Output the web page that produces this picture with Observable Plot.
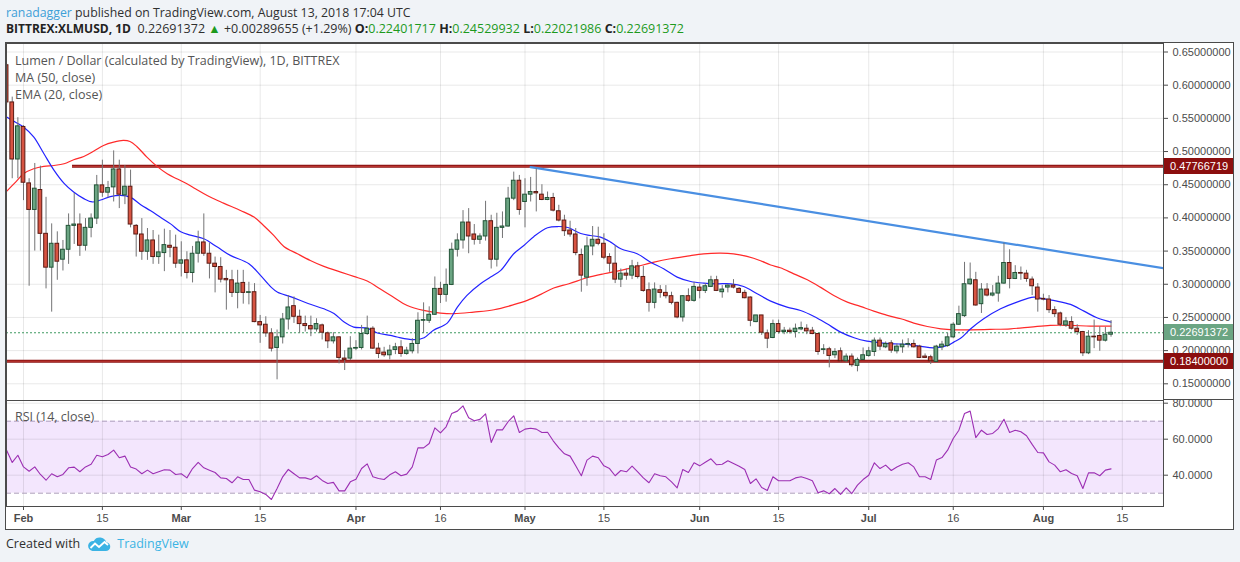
<!DOCTYPE html>
<html><head><meta charset="utf-8">
<script src="https://cdn.jsdelivr.net/npm/d3@7"></script>
<script src="https://cdn.jsdelivr.net/npm/@observablehq/plot@0.6"></script>
<style>
html,body{margin:0;padding:0;background:#f0f3f7;width:1240px;height:562px;overflow:hidden;font-family:"Open Sans",sans-serif;}
.abs{position:absolute;white-space:nowrap;}
#h1{left:6px;top:3px;font-size:12.3px;color:#2f2f2f;line-height:19px;}
#h1 .user{color:#3ea0d8;}
#h2{left:6px;top:20px;font-size:12.5px;color:#2f2f2f;line-height:18px;}
#h2 b{font-weight:700;color:#222;}
#h2 .sym{font-size:12px;}
#h2 .g{color:#1d9a1d;}
#frame{left:5px;top:42px;width:1229px;height:488px;box-sizing:border-box;border:1px solid #4b4b4b;background:#fff;}
#mainBox{left:6px;top:43px;width:1228px;height:357px;}
#rsiBox{left:6px;top:400px;width:1228px;height:130px;}
.leg{left:15px;font-size:12.5px;color:#555;line-height:16px;}
.pbox{position:absolute;left:1164px;width:69px;height:16px;color:#fff;font-family:"Liberation Sans",Arial,sans-serif;font-size:11px;line-height:16px;padding-left:6px;box-sizing:border-box;}
#sep{left:1163px;top:399px;width:70px;height:1px;background:#4b4b4b;}
#ft{left:6px;top:535px;font-size:12.5px;color:#2f2f2f;line-height:18px;display:flex;align-items:center;}
#ft .tv{color:#3bb3e4;}
</style></head><body>
<div id="h1" class="abs"><span class="user">ranadagger</span> published on TradingView.com, August 13, 2018 17:04 UTC</div>
<div id="h2" class="abs"><b class="sym">BITTREX:XLMUSD, 1D</b>&nbsp; 0.22691372 <span class="g">&#9650;</span> +0.00289655 (+1.29%) <b>O:</b><span class="g">0.22401717</span> <b>H:</b><span class="g">0.24529932</span> <b>L:</b><span class="g">0.22021986</span> <b>C:</b><span class="g">0.22691372</span></div>
<div id="frame" class="abs"></div>
<div id="mainBox" class="abs"></div>
<div id="rsiBox" class="abs"></div>
<div id="sep" class="abs"></div>
<div class="abs leg" style="top:53px">Lumen / Dollar (calculated by TradingView), 1D, BITTREX</div>
<div class="abs leg" style="top:70px">MA (50, close)</div>
<div class="abs leg" style="top:87px">EMA (20, close)</div>
<div class="abs leg" style="top:409px">RSI (14, close)</div>
<div id="ft" class="abs">Created with&nbsp;&nbsp;<svg width="24" height="16" viewBox="0 0 24 16"><path d="M5.5 15 H18.5 A4.4 4.4 0 0 0 19.2 6.2 A6.8 6.8 0 0 0 6.8 5 A5 5 0 0 0 5.5 15 Z" fill="#3bb3e4"/><polyline points="3.5,12 8,7.5 12,11 17.5,6 21,9" fill="none" stroke="#fff" stroke-width="1.8"/></svg>&nbsp;&nbsp;<span class="tv">TradingView</span></div>
<script>
// ---------- data ----------
const firstCandle = "2018-01-29";
// [open, high, low, close] per day
const ohlcJan = [[.630,.632,.570,.574],[.574,.582,.459,.488],[.488,.551,.459,.538]];
const ohlcFeb = [
[.537,.539,.426,.453],[.452,.459,.297,.412],[.412,.482,.350,.444],[.442,.478,.350,.376],[.376,.431,.293,.325],
[.325,.391,.258,.361],[.361,.379,.306,.334],[.337,.366,.320,.352],[.352,.406,.330,.388],[.388,.437,.360,.390],
[.390,.406,.342,.358],[.358,.399,.350,.385],[.385,.406,.370,.399],[.399,.464,.390,.449],[.449,.487,.431,.438],
[.438,.455,.430,.445],[.446,.501,.424,.473],[.473,.487,.414,.435],[.434,.479,.420,.447],[.447,.472,.385,.390],
[.388,.390,.341,.375],[.375,.399,.336,.349],[.349,.384,.336,.366],[.366,.381,.330,.341],[.341,.374,.330,.348],
[.347,.383,.319,.359],[.358,.381,.340,.355],[.355,.374,.324,.331]];
const ohlcMar = [
[.331,.364,.311,.336],[.336,.349,.308,.317],[.317,.357,.302,.346],[.346,.380,.332,.363],[.363,.406,.342,.346],
[.346,.362,.308,.331],[.331,.341,.287,.326],[.326,.340,.302,.307],[.308,.321,.261,.306],[.306,.321,.280,.287],
[.287,.321,.263,.301],[.302,.321,.270,.287],[.287,.303,.269,.288],[.288,.301,.242,.243],[.243,.253,.211,.238],
[.239,.251,.220,.226],[.226,.233,.198,.203],[.204,.231,.156,.220],[.220,.256,.210,.247],[.247,.283,.231,.265],
[.267,.281,.241,.251],[.251,.261,.226,.240],[.240,.252,.228,.237],[.237,.252,.221,.232],[.232,.248,.228,.240],
[.238,.240,.216,.227],[.226,.228,.203,.214],[.214,.227,.210,.220],[.220,.221,.180,.189],[.188,.200,.170,.186],
[.188,.221,.185,.203]];
const ohlcApr = [
[.203,.215,.200,.204],[.204,.238,.201,.225],[.225,.252,.223,.233],[.233,.236,.202,.203],[.203,.211,.188,.195],
[.197,.205,.190,.193],[.193,.208,.186,.200],[.201,.211,.194,.205],[.205,.215,.190,.195],[.195,.205,.193,.200],
[.199,.218,.195,.210],[.210,.257,.195,.245],[.245,.272,.226,.246],[.245,.266,.241,.254],[.254,.311,.253,.293],
[.293,.303,.271,.284],[.284,.323,.273,.299],[.299,.362,.298,.352],[.352,.376,.341,.366],[.366,.411,.353,.393],
[.393,.414,.346,.372],[.375,.390,.359,.367],[.367,.376,.360,.372],[.372,.425,.365,.395],[.395,.404,.323,.337],
[.337,.407,.326,.385],[.385,.409,.369,.387],[.387,.446,.386,.429],[.429,.469,.426,.456],[.456,.464,.404,.412]];
const ohlcMay = [
[.424,.459,.385,.435],[.435,.461,.424,.439],[.439,.474,.409,.437],[.435,.450,.426,.427],[.427,.439,.426,.430],
[.430,.437,.409,.411],[.410,.419,.394,.396],[.396,.404,.372,.380],[.381,.395,.371,.375],[.375,.384,.343,.347],
[.344,.353,.288,.313],[.310,.371,.297,.357],[.357,.387,.343,.367],[.367,.386,.358,.361],[.361,.376,.337,.340],
[.341,.346,.318,.331],[.331,.358,.301,.307],[.307,.323,.295,.316],[.316,.323,.306,.313],[.313,.336,.307,.327],
[.327,.333,.308,.311],[.311,.327,.288,.290],[.291,.302,.258,.272],[.272,.302,.263,.292],[.291,.298,.279,.287],
[.287,.298,.278,.282],[.282,.288,.269,.272],[.272,.273,.248,.250],[.250,.283,.243,.282],[.282,.293,.273,.275],
[.275,.303,.273,.296]];
const ohlcJun = [
[.295,.300,.278,.290],[.290,.301,.286,.297],[.296,.312,.295,.306],[.306,.312,.289,.290],[.288,.298,.279,.292],
[.295,.299,.287,.298],[.298,.307,.293,.295],[.293,.295,.286,.287],[.287,.291,.278,.279],[.280,.281,.236,.245],
[.243,.253,.242,.253],[.253,.253,.223,.227],[.226,.231,.203,.218],[.219,.246,.218,.240],[.240,.246,.225,.228],
[.228,.235,.224,.230],[.230,.234,.225,.228],[.228,.240,.219,.233],[.232,.243,.230,.234],[.233,.239,.224,.229],
[.230,.235,.224,.225],[.225,.226,.193,.198],[.201,.209,.194,.202],[.202,.205,.174,.192],[.193,.203,.188,.198],
[.199,.204,.183,.184],[.184,.195,.182,.191],[.191,.195,.175,.178],[.177,.189,.168,.186],[.186,.204,.185,.193]];
const ohlcJul = [
[.192,.205,.190,.199],[.198,.219,.191,.215],[.215,.219,.200,.206],[.205,.213,.203,.210],[.211,.215,.196,.200],
[.199,.210,.195,.206],[.205,.216,.196,.209],[.209,.218,.204,.210],[.210,.216,.204,.205],[.206,.208,.188,.189],
[.191,.195,.188,.189],[.190,.193,.179,.184],[.183,.208,.182,.206],[.205,.214,.200,.209],[.207,.226,.205,.220],
[.220,.242,.218,.239],[.239,.267,.238,.255],[.252,.333,.250,.300],[.300,.332,.298,.307],[.306,.318,.267,.268],
[.270,.301,.256,.292],[.292,.301,.281,.283],[.283,.298,.281,.286],[.286,.312,.273,.301],[.301,.362,.300,.332],
[.332,.352,.293,.308],[.308,.328,.307,.317],[.317,.326,.306,.316],[.316,.321,.303,.308],[.307,.311,.283,.297],
[.295,.301,.258,.277]];
const ohlcAug = [
[.278,.285,.275,.277],[.277,.283,.256,.261],[.261,.266,.250,.255],[.256,.258,.236,.239],[.238,.250,.235,.244],
[.243,.251,.231,.233],[.233,.239,.223,.228],[.228,.229,.191,.196],[.196,.230,.194,.221],[.221,.246,.203,.220],
[.222,.236,.199,.215],[.215,.235,.213,.22402],[.22401717,.24529932,.22021986,.22691372]];

const rsiJan = [53.9,47.1,51.1];
const rsiFeb = [44.6,42.2,44.6,40.4,37.2,40.8,39.1,40.4,44.1,44.5,41.9,44.6,46.1,51.1,50.2,51.5,53.9,49.7,50.6,44.6,43.4,40.8,42.8,40.8,41.9,43.0,42.8,40.4];
const rsiMar = [40.8,38.5,43.7,47.1,44.1,42.8,41.5,38.5,38.2,35.8,39.1,37.6,37.6,31.7,30.8,29.3,26.5,32.6,39.1,43.2,40.8,38.5,38.5,37.6,39.7,37.1,35.4,36.0,31.3,31.3,36.3];
const rsiApr = [37.8,43.7,46.3,39.1,38.2,37.6,40.2,41.9,39.7,40.6,44.6,55.2,55.2,57.6,66.3,63.5,66.9,74.3,75.6,78.5,71.9,70.2,71.0,74.1,58.2,65.2,65.2,69.7,73.0,63.7];
const rsiMay = [65.6,66.1,65.6,63.7,63.9,59.1,55.2,51.9,50.6,45.2,39.7,48.4,50.6,49.7,45.2,43.7,39.7,42.6,41.9,45.0,41.9,38.5,35.8,40.8,39.7,39.1,36.3,33.0,43.2,41.5,46.9];
const rsiJun = [45.2,47.2,49.1,45.8,46.1,48.0,46.5,45.0,43.2,35.4,38.0,33.2,31.5,39.1,36.9,36.9,36.9,38.5,39.1,38.2,36.9,30.2,31.3,29.7,32.6,29.3,33.0,29.8,34.5,37.6];
const rsiJul = [40.0,46.9,43.7,45.6,42.6,44.6,46.1,46.9,44.6,39.1,39.1,37.6,48.4,49.8,53.9,60.4,65.0,74.3,75.6,60.9,65.0,62.6,63.2,65.9,71.1,63.7,65.0,64.1,61.9,57.1,52.6];
const rsiAug = [52.4,47.4,45.6,41.9,43.0,40.9,39.7,32.6,41.3,41.3,39.7,42.8,43.5];

// indicator curves as [days since Feb 1, value]
const ma50 = [[-3,.440],[-1.4,.454],[0,.4665],[1.8,.474],[3.6,.4776],[5.4,.479],[7.2,.4816],[8.9,.4876],[10.7,.4926],[12.5,.5007],[14.2,.5092],[16,.5142],[17.7,.5167],[18.9,.5152],[20.1,.5077],[21.9,.4916],[23.7,.4776],[25.5,.4665],[27.2,.459],[29,.4515],[30.5,.444],[32.6,.4338],[35.5,.4223],[38.5,.4112],[40.9,.4012],[42.6,.3886],[44.4,.3736],[46.2,.357],[48.6,.346],[50.9,.3359],[53.3,.3269],[56.3,.3183],[58.6,.3118],[61,.3048],[63.4,.2925],[65.4,.282],[68.1,.2681],[71,.2606],[74,.2566],[76.4,.2556],[79.9,.2581],[83.5,.2616],[87,.2692],[89.4,.2757],[91.8,.2847],[94.1,.2943],[96.8,.3008],[100,.3098],[103,.3158],[106,.3208],[108.9,.3268],[111.9,.3333],[114.8,.3384],[117.8,.3424],[120.7,.3459],[123.7,.3469],[126,.3459],[128.4,.3419],[130.8,.3355],[132.6,.329],[134.3,.3248],[136.7,.3157],[139.1,.3067],[141.4,.2957],[143.8,.2831],[146.2,.2731],[148.5,.2666],[150.9,.2595],[153.3,.253],[155.7,.248],[158,.2415],[160.4,.2364],[162.8,.2329],[165.1,.2314],[168.1,.2314],[171.6,.232],[175.2,.2329],[178.7,.2354],[182.2,.238],[185.8,.238],[189.3,.237],[193,.237]];
const ema20 = [[-3,.552],[-1.4,.544],[0,.537],[1.8,.522],[3.6,.497],[5.4,.472],[7.2,.452],[8.9,.439],[10.7,.429],[12.2,.424],[13.7,.427],[15.4,.432],[17.2,.434],[19,.431],[20.8,.420],[22.5,.411],[24.3,.401],[26.1,.391],[27.9,.379],[29.6,.374],[32,.3685],[34.4,.356],[36.7,.3435],[40,.331],[42.1,.313],[43.9,.296],[45.1,.288],[47.5,.281],[50.5,.271],[53.3,.263],[55.1,.256],[56.9,.243],[58.6,.2355],[61,.234],[62.8,.2265],[65.1,.223],[66.3,.2205],[69.3,.2165],[71.1,.2195],[72.7,.2305],[75.2,.2415],[77,.2656],[78.7,.2832],[81.1,.3008],[82.9,.3108],[84.7,.3209],[87,.346],[88.8,.3585],[90.6,.3721],[93,.3851],[94.8,.387],[96.6,.3855],[98.9,.3765],[100.6,.3735],[102.4,.371],[104.2,.3635],[106,.3534],[108.9,.3459],[111.3,.3333],[113.6,.3233],[116,.3108],[118.4,.3042],[120.7,.3017],[123.1,.3007],[125.5,.3007],[127.8,.2967],[130.2,.2857],[132.6,.2746],[135.5,.2656],[137.9,.2605],[140.3,.2515],[142.6,.2404],[145,.2279],[147.4,.2194],[149.7,.2143],[152.1,.2118],[154.5,.2103],[156.9,.2093],[159.3,.2063],[161.6,.2043],[164,.2078],[165.1,.2128],[166.3,.2185],[168.1,.2329],[170.4,.248],[173.4,.263],[176.3,.2731],[179.3,.2806],[181,.278],[183.4,.2746],[185.8,.2696],[188.2,.2595],[190.5,.2495],[193,.243]];
const trendLine = [[90,.4765],[202.3,.3241]];
const resistance = 0.47766719, resistanceFromDay = 8.7;
const support = 0.184;
const lastPrice = 0.22691372;

const priceTicks = [0.15,0.20,0.25,0.30,0.35,0.40,0.45,0.50,0.55,0.60,0.65];
const rsiTicks = [40,60,80];
const rsiBand = [30,70];
const tickDays = ["2018-02-01","2018-02-15","2018-03-01","2018-03-15","2018-04-01","2018-04-16","2018-05-01","2018-05-15","2018-06-01","2018-06-15","2018-07-01","2018-07-16","2018-08-01","2018-08-15"];
const tickLabels = ["Feb","15","Mar","15","Apr","16","May","15","Jun","15","Jul","16","Aug","15"];

// ---------- build ----------
const DAY = 864e5;
const feb1 = Date.UTC(2018,1,1);
const atDay = d => new Date(feb1 + d*DAY);
const start = new Date(firstCandle + "T00:00:00Z");
const xDomain = [atDay(-3.017), atDay(202.31)];

const ohlc = [...ohlcJan,...ohlcFeb,...ohlcMar,...ohlcApr,...ohlcMay,...ohlcJun,...ohlcJul,...ohlcAug];
const candles = ohlc.map(([o,h,l,c],i)=>({date:d3.utcDay.offset(start,i),o,h,l,c,up:c>=o}));
const rsiVals = [...rsiJan,...rsiFeb,...rsiMar,...rsiApr,...rsiMay,...rsiJun,...rsiJul,...rsiAug];
const rsi = rsiVals.map((v,i)=>({date:d3.utcDay.offset(start,i),v}));
const tickDates = tickDays.map(s=>new Date(s+"T00:00:00Z"));
const labelOf = new Map(tickDates.map((d,i)=>[+d,tickLabels[i]]));
const monthTicks = tickDates.filter(d=>isNaN(+labelOf.get(+d)));
const dayTicks = tickDates.filter(d=>!isNaN(+labelOf.get(+d)));

const UP="#6ba583", DOWN="#d75442", UPB="#225437", DOWNB="#5b1a13", WICK="#737375";
const GRID = {stroke:"#000", strokeOpacity:0.09};
const W = 1228, PW = 1157;
const fontStyle = {background:"transparent", fontFamily:"'Liberation Sans', Arial, sans-serif", fontSize:"11px", color:"#4c4c4c", overflow:"visible"};
const half = 0.33*DAY;
const pt = d => ({x: atDay(d[0]), y: d[1]});

const main = Plot.plot({
  width: W, height: 357, marginLeft: 0, marginRight: W-PW, marginTop: 0, marginBottom: 0,
  style: fontStyle,
  x: {type:"utc", domain: xDomain, axis: null},
  y: {domain: [0.12483, 0.66281], axis: null},
  marks: [
    Plot.ruleY(priceTicks, GRID),
    Plot.ruleX(tickDates, GRID),
    Plot.ruleY([resistance], {x1: atDay(resistanceFromDay), x2: xDomain[1], stroke:"#8a1010", strokeWidth:3}),
    Plot.ruleY([resistance], {x1: atDay(resistanceFromDay), x2: xDomain[1], stroke:"#c8413a", strokeWidth:0.9}),
    Plot.ruleY([support], {x1: xDomain[0], x2: xDomain[1], stroke:"#8a1010", strokeWidth:3}),
    Plot.ruleY([support], {x1: xDomain[0], x2: xDomain[1], stroke:"#c8413a", strokeWidth:0.9}),
    Plot.ruleY([lastPrice], {stroke:"#3f9a62", strokeDasharray:"2,2", strokeWidth:1}),
    Plot.line(ma50.map(pt), {x:"x", y:"y", stroke:"#ff2a2a", strokeWidth:1.2, curve:"catmull-rom", clip:true}),
    Plot.line(ema20.map(pt), {x:"x", y:"y", stroke:"#2323ff", strokeWidth:1.2, curve:"catmull-rom", clip:true}),
    Plot.line(trendLine.map(pt), {x:"x", y:"y", stroke:"#4a8fe2", strokeWidth:2.2, clip:true}),
    Plot.ruleX(candles, {x:"date", y1:"l", y2:"h", stroke:WICK, strokeWidth:1, clip:true}),
    Plot.rect(candles, {x1: d=>new Date(+d.date-half), x2: d=>new Date(+d.date+half), y1:"o", y2:"c",
      fill: d=>d.up?UP:DOWN, stroke: d=>d.up?UPB:DOWNB, strokeWidth:1, clip:true}),
    Plot.frame({stroke:"#4b4b4b"}),
    Plot.axisY(priceTicks, {anchor:"right", tickSize:4, tickPadding:5, tickFormat:d=>d.toFixed(8), color:"#4c4c4c", label:null})
  ]
});
document.getElementById("mainBox").appendChild(main);

const rsiPlot = Plot.plot({
  width: W, height: 130, marginLeft: 0, marginRight: W-PW, marginTop: 0, marginBottom: 24,
  style: fontStyle,
  x: {type:"utc", domain: xDomain, axis: null},
  y: {domain: [22.61, 81.5], axis: null},
  marks: [
    Plot.rect([0], {x1: xDomain[0], x2: xDomain[1], y1: rsiBand[0], y2: rsiBand[1], fill:"#f3e6fd"}),
    Plot.ruleY(rsiTicks, GRID),
    Plot.ruleX(tickDates, GRID),
    Plot.ruleY(rsiBand, {stroke:"#ad9fbb", strokeDasharray:"5,3"}),
    Plot.line(rsi, {x:"date", y:"v", stroke:"#9c2fb3", strokeWidth:1.1, clip:true}),
    Plot.frame({stroke:"#4b4b4b"}),
    Plot.axisY(rsiTicks, {anchor:"right", tickSize:4, tickPadding:5, tickFormat:d=>d.toFixed(4), color:"#4c4c4c", label:null}),
    Plot.axisX(monthTicks, {anchor:"bottom", tickSize:4, tickPadding:4, tickFormat:d=>labelOf.get(+d), fontWeight:"bold", color:"#4c4c4c", label:null}),
    Plot.axisX(dayTicks, {anchor:"bottom", tickSize:4, tickPadding:4, tickFormat:d=>labelOf.get(+d), color:"#4c4c4c", label:null})
  ]
});
document.getElementById("rsiBox").appendChild(rsiPlot);

// price labels on the right axis, placed through the plot's y scale
const boxValues = [resistance, lastPrice, support];
const boxColors = ["#8b0e0e", "#6ba583", "#8b0e0e"];
const ys = main.scale("y");
boxValues.forEach((v,i)=>{
  const el = document.createElement("div");
  el.className = "pbox";
  el.style.top = (43 + ys.apply(v) - 8) + "px";
  el.style.background = boxColors[i];
  el.textContent = v.toFixed(8);
  document.body.appendChild(el);
});
</script>
</body></html>
